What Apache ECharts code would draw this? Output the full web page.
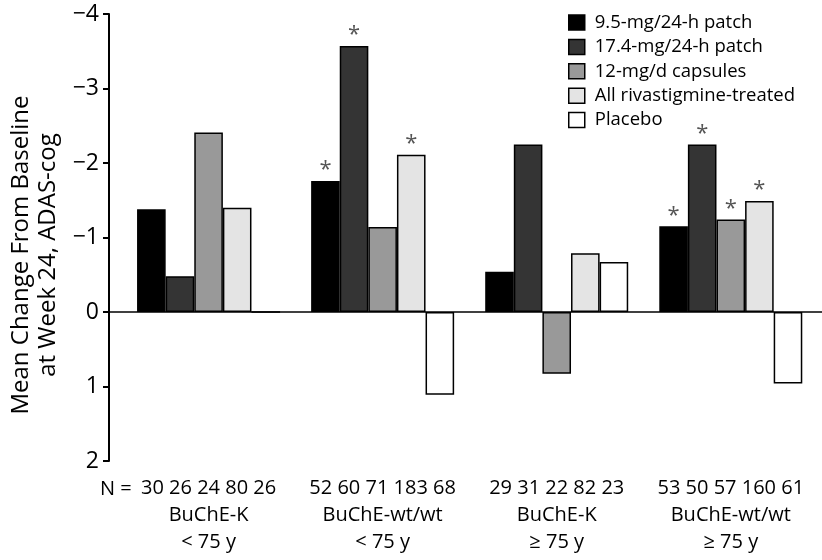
<!DOCTYPE html>
<html>
<head>
<meta charset="utf-8">
<script src="https://cdn.jsdelivr.net/npm/echarts@6/dist/echarts.min.js"></script>
<style>
html,body{margin:0;padding:0;background:#fff;}
#chart{width:822px;height:560px;}
</style>
</head>
<body>
<div id="chart"></div>
<script>
// ---- data ----
const groupNames = ['BuChE-K', 'BuChE-wt/wt', 'BuChE-K', 'BuChE-wt/wt'];
const ageLabels = ['< 75 y', '< 75 y', '\u2265 75 y', '\u2265 75 y'];
const nCounts = ['30 26 24 80 26', '52 60 71 183 68', '29 31 22 82 23', '53 50 57 160 61'];
const nPrefix = 'N =';
const seriesNames = ['9.5-mg/24-h patch', '17.4-mg/24-h patch', '12-mg/d capsules', 'All rivastigmine-treated', 'Placebo'];
const patch95 = [-1.38, -1.76, -0.54, -1.15];
const patch174 = [-0.48, -3.57, -2.25, -2.25];
const capsules12 = [-2.41, -1.14, 0.83, -1.24];
const allRiva = [-1.40, -2.11, -0.79, -1.49];
const placebo = [0, 1.11, -0.67, 0.96];
const sig95 = [false, true, false, true];
const sig174 = [false, true, false, true];
const sigCaps = [false, false, false, true];
const sigAll = [false, true, false, true];
const sigPlacebo = [false, false, false, false];
const colors = ['#000000', '#343434', '#999999', '#e4e4e4', '#ffffff'];

const FONT = '"Open Sans", "Noto Sans", sans-serif';
const allValues = [patch95, patch174, capsules12, allRiva, placebo];
const allSig = [sig95, sig174, sigCaps, sigAll, sigPlacebo];

const series = allValues.map((vals, s) => ({
  name: seriesNames[s],
  type: 'bar',
  barWidth: 28.6,
  barGap: '0%',
  itemStyle: { color: colors[s], borderColor: '#000', borderWidth: 1.5 },
  label: {
    show: false,
    position: 'top',
    distance: 0,
    formatter: '*',
    fontFamily: FONT,
    fontSize: 22,
    color: '#555'
  },
  data: vals.map((v, i) => ({
    value: [i, v],
    label: { show: allSig[s][i] }
  })),
  markLine: s === 0 ? {
    silent: true,
    symbol: 'none',
    label: { show: false },
    lineStyle: { color: '#000', type: 'solid', width: 1.5 },
    data: [{ yAxis: 0 }]
  } : undefined
}));

const chart = echarts.init(document.getElementById('chart'), null, { renderer: 'canvas' });
chart.setOption({
  animation: false,
  backgroundColor: '#fff',
  grid: { left: 106, right: 0, top: 14, bottom: 99, containLabel: false },
  legend: {
    orient: 'vertical',
    left: 563,
    top: 8,
    icon: 'rect',
    itemWidth: 16,
    itemHeight: 15,
    itemGap: 5.4,
    itemStyle: { borderColor: '#000', borderWidth: 1.5 },
    textStyle: { fontFamily: FONT, fontSize: 18.5, color: '#000', lineHeight: 16, padding: [0, 0, 0, 5] },
    data: seriesNames
  },
  xAxis: {
    type: 'value',
    min: -0.572,
    max: 3.524,
    name: '\n\n' + nPrefix,
    nameLocation: 'start',
    nameGap: 9,
    nameMoveOverlap: false,
    nameTextStyle: {
      fontFamily: FONT, fontSize: 20, color: '#000',
      align: 'left', verticalAlign: 'middle', lineHeight: 28
    },
    axisLine: { show: false, onZero: false },
    axisTick: { show: false },
    splitLine: { show: false },
    axisLabel: {
      customValues: [0, 1, 2, 3],
      hideOverlap: false,
      showMinLabel: true,
      showMaxLabel: true,
      margin: 14,
      fontFamily: FONT,
      fontSize: 20,
      lineHeight: 27,
      color: '#000',
      formatter: function (v) {
        const i = Math.round(v);
        return nCounts[i] + '\n' + groupNames[i] + '\n' + ageLabels[i];
      }
    }
  },
  yAxis: {
    type: 'value',
    inverse: true,
    min: -4,
    max: 2,
    interval: 1,
    name: 'Mean Change From Baseline\nat Week 24, ADAS-cog',
    nameLocation: 'middle',
    nameRotate: 90,
    nameGap: 47,
    nameMoveOverlap: false,
    nameTextStyle: { fontFamily: FONT, fontSize: 24, lineHeight: 27, color: '#000', padding: [0, 35, 0, 0] },
    axisLine: { show: true, onZero: false, lineStyle: { color: '#000', width: 2 } },
    axisTick: { show: true, inside: false, length: 6, lineStyle: { color: '#000', width: 2 } },
    splitLine: { show: false },
    axisLabel: {
      margin: 10,
      hideOverlap: false,
      fontFamily: FONT,
      fontSize: 23,
      color: '#000',
      formatter: function (v) { return v < 0 ? '\u2212' + Math.abs(v) : String(v); }
    }
  },
  series: series
});
</script>
</body>
</html>
